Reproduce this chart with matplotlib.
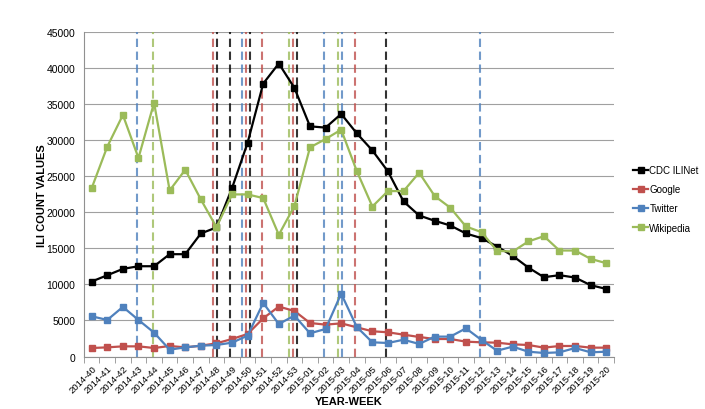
import matplotlib.pyplot as plt
import numpy as np

plt.rcParams["font.family"] = ["Liberation Sans", "DejaVu Sans"]

weeks = ["2014-%d" % w for w in range(40, 54)] + ["2015-%02d" % w for w in range(1, 21)]

cdc = [10400, 11270, 12150, 12520, 12520, 14190, 14190, 17060, 17900, 23350,
       29650, 37850, 40630, 37250, 31920, 31740, 33640, 30950, 28580, 25670,
       21500, 19560, 18820, 18170, 17060, 16420, 15250, 13960, 12340, 11000,
       11280, 10950, 9890, 9375]
google = [1180, 1270, 1410, 1410, 1180, 1460, 1270, 1500, 1830, 2430,
          3125, 5300, 6920, 6320, 4650, 4420, 4600, 4050, 3500, 3360,
          3030, 2710, 2430, 2430, 2060, 1970, 1920, 1690, 1600, 1230,
          1460, 1460, 1230, 1230]
twitter = [5580, 5070, 6880, 5070, 3310, 950, 1270, 1500, 1600, 1920,
           2900, 7430, 4510, 5670, 3220, 3820, 8720, 4100, 1970, 1875,
           2330, 1740, 2760, 2760, 3910, 2290, 810, 1370, 670, 490,
           580, 1180, 580, 670]
wiki = [23350, 29100, 33500, 27530, 35200, 23030, 25900, 21780, 17940, 22480,
        22480, 21970, 16880, 20860, 29000, 30160, 31460, 25720, 20800, 22940,
        22940, 25490, 22250, 20630, 18030, 17250, 14650, 14560, 15950, 16690,
        14700, 14700, 13540, 12940]

# peak weeks (index into weeks) marked with dashed lines
cdc_peaks = [8, 9, 10, 13, 19]
google_peaks = [8, 10, 11, 13, 17]
twitter_peaks = [3, 10, 15, 16, 25]
wiki_peaks = [4, 13, 16]

names = ["CDC ILINet", "Google", "Twitter", "Wikipedia"]
colors = ["black", "#C0504D", "#4F81BD", "#9BBB59"]
series = [cdc, google, twitter, wiki]
peaks = [cdc_peaks, google_peaks, twitter_peaks, wiki_peaks]

fig = plt.figure(figsize=(7.05, 4.10), dpi=100)
ax = fig.add_axes([0.119, 0.128, 0.752, 0.7915])

x = np.arange(len(weeks))

# dashed peak lines, side by side when several share a week
order = [3, 2, 1, 0]  # wikipedia, twitter, google, cdc from left to right
for w in range(len(weeks)):
    here = [k for k in order if w in peaks[k]]
    n = len(here)
    for j, k in enumerate(here):
        xp = w - 0.1 + 0.25 * (j - (n - 1) / 2)
        ax.axvline(xp, color=colors[k], lw=1.5, dashes=(4, 2.2), zorder=1, alpha=0.8)

for s, c, name in zip(series, colors, names):
    ax.plot(x, s, color=c, lw=1.6, marker="s", markersize=4.5, label=name, zorder=3)

ax.set_xlim(-0.5, len(weeks) - 0.5)
ax.set_ylim(0, 45000)
ax.set_yticks(range(0, 45001, 5000))
ax.yaxis.grid(True, color="#a0a0a0", lw=0.8)
ax.set_axisbelow(True)
ax.tick_params(axis="y", length=0, labelsize=7.5, pad=6)

ax.set_xticks(x)
ax.set_xticklabels(weeks, rotation=45, ha="right", rotation_mode="anchor", fontsize=6.8)
ax.set_xticks(np.arange(-0.5, len(weeks), 1), minor=True)
ax.tick_params(axis="x", which="major", length=0, pad=5)
ax.tick_params(axis="x", which="minor", length=4, color="#909090")

for side in ["top", "right"]:
    ax.spines[side].set_visible(False)
ax.spines["left"].set_color("#909090")
ax.spines["bottom"].set_color("#909090")

ax.set_ylabel("ILI COUNT VALUES", fontsize=8, fontweight="bold")
ax.yaxis.set_label_coords(-0.07, 0.5)
ax.set_xlabel("YEAR-WEEK", fontsize=8, fontweight="bold")
ax.xaxis.set_label_coords(0.5, -0.122)

leg = ax.legend(loc="center left", bbox_to_anchor=(1.02, 0.486), frameon=False,
                fontsize=7, handlelength=1.5, labelspacing=0.95, handletextpad=0.15)

fig.savefig("out.png", dpi=100)
